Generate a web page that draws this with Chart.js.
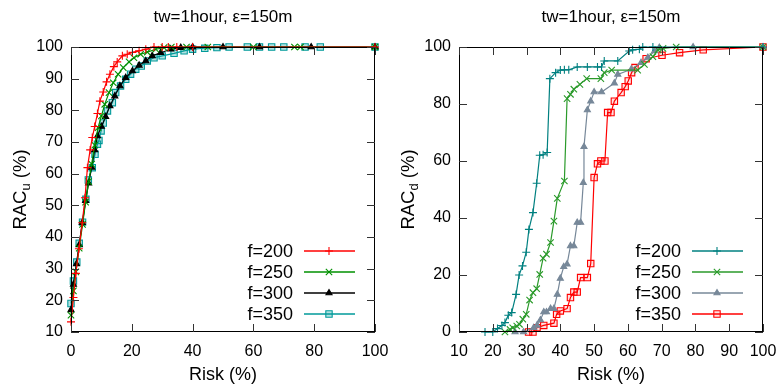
<!DOCTYPE html>
<html>
<head>
<meta charset="utf-8">
<script src="https://cdn.jsdelivr.net/npm/chart.js"></script>
<style>
body { margin: 0; background: #fff; }
canvas { position: absolute; top: 0; }
</style>
</head>
<body>
<canvas id="chartU" width="391" height="385" style="left:0"></canvas>
<canvas id="chartD" width="391" height="385" style="left:391px"></canvas>
<script>
// left panel: RAC_u vs risk
const labels = ["f=200", "f=250", "f=300", "f=350"]
const titleText = "tw=1hour, ε=150m"

const riskU200 = [0, 0.8, 1.6, 2.6, 3.7, 4.6, 5.4, 6.3, 7, 7.8, 8.7, 9.5, 10.6, 11.7, 12.8, 14.1, 15.2, 16.9, 18.5, 20.2, 22.4, 24.6, 27.3, 30, 32, 34.8, 40, 100]
const racU200 = [13.2, 20.9, 28.5, 36.3, 44.5, 52.4, 61.9, 67.5, 71.4, 74.9, 79, 82.9, 85.8, 89, 91.4, 93.8, 95.3, 97.2, 97.7, 98.3, 98.8, 99.3, 100, 100, 100, 100, 100, 100]
const riskU250 = [0, 0.8, 1.6, 2.7, 3.8, 4.8, 5.8, 6.8, 7.8, 8.9, 10, 11.1, 12.5, 13.9, 15.5, 17.2, 19.1, 20.7, 22.9, 25.1, 27.9, 30.6, 33, 38, 45, 60, 73.5, 75.5, 100]
const racU250 = [15.3, 23, 29, 36.5, 44, 51, 57.5, 63, 69, 74.5, 78.2, 81.9, 85.6, 88.7, 91.4, 93.5, 95.3, 96.6, 97.7, 98.4, 99.3, 99.8, 100, 100, 100, 100, 100, 100, 100]
const riskU300 = [0, 0.8, 1.8, 2.7, 3.7, 4.8, 5.8, 6.8, 7.8, 8.7, 10, 11.4, 12.8, 14.4, 16.1, 18, 20.2, 22.4, 24.6, 26.7, 29.5, 32.8, 36.1, 40, 50, 62, 79, 100]
const racU300 = [17, 25, 31.5, 37.5, 44.5, 51.5, 57, 62, 67.5, 71.9, 74.9, 78, 81.4, 84.5, 87.7, 90.3, 92.4, 94.2, 95.6, 97.2, 98.2, 99.3, 99.8, 100, 100, 100, 100, 100]
const riskU350 = [0, 0.8, 1.9, 2.7, 3.8, 4.9, 5.7, 7, 7.9, 8.7, 9.2, 9.9, 10.6, 12, 13.6, 14.7, 16.3, 18, 19.6, 21.3, 23.1, 25.1, 27.3, 30, 33.9, 37.2, 40, 44, 48, 52, 58, 62, 66, 70, 77, 82, 100]
const racU350 = [19, 26.1, 32.1, 38, 44.7, 51.9, 58, 61.9, 66.1, 69.3, 70.5, 73.5, 76, 79.8, 82.4, 85.6, 87.7, 89.8, 91.4, 93, 94, 95.6, 96.6, 97.2, 98, 98.8, 99.3, 99.6, 99.8, 100, 100, 100, 100, 100, 100, 100, 100]

// right panel: RAC_d vs risk
const riskD200 = [17.7, 20, 21.4, 22.7, 23.6, 24.6, 25.6, 26.9, 27.8, 28.8, 29.9, 30.7, 31.9, 33, 33.9, 34.9, 36.1, 36.9, 38.6, 40, 41.2, 42.5, 45, 48, 51, 52.2, 53, 57, 60.4, 61.4, 63.4, 64.4, 67.4, 100]
const racD200 = [0, 0, 1.2, 2.3, 3.3, 5.9, 6.8, 13.2, 20, 23.2, 28, 36, 41.9, 52.2, 62, 62.2, 63, 88.9, 91, 91.9, 92, 92, 93, 93, 93, 93, 95.1, 95.1, 98.6, 99, 99.2, 100, 100, 100]
const riskD250 = [23.6, 25.1, 25.9, 27.1, 27.9, 28.9, 29.9, 30.9, 31.9, 33, 33.9, 34.9, 35.9, 37.1, 38.1, 39.1, 41.2, 42, 43, 44, 45.8, 47.8, 52, 53, 55.2, 62.9, 64.9, 67.4, 68.9, 70.4, 74.3, 100]
const racD250 = [0, 0.9, 1.5, 2.1, 2.7, 4.5, 6.2, 11.2, 13.8, 15.2, 20.2, 25.9, 27.3, 31.4, 38.9, 46.9, 53, 81.9, 83.4, 85.2, 86.9, 88.9, 88.9, 91, 91.9, 91.9, 93.9, 96.6, 99, 99.5, 100, 100]
const riskD300 = [26.6, 29.1, 32.1, 33.1, 34.1, 35.1, 35.9, 37.1, 38.1, 39.1, 40, 41, 42, 43, 44, 45, 46, 46.8, 47, 48, 49, 50, 52.2, 56, 57, 61, 63.9, 65.9, 67.9, 69.3, 79.3, 100]
const racD300 = [0, 0, 1.5, 2.3, 4.2, 7, 7, 8.2, 8.2, 13.2, 18.8, 22.9, 23.8, 30.2, 30.2, 38.4, 38.4, 52.4, 65, 77.9, 81, 84.2, 84.2, 87.3, 90.4, 92.2, 94.5, 96.3, 98.6, 99.8, 100, 100]
const riskD350 = [30.6, 31.9, 33.1, 35.1, 38.1, 38.9, 40, 42, 43, 44, 45, 46, 48, 49, 50, 51, 52, 53.2, 54, 55, 56, 58, 59.2, 60.1, 61.1, 62.1, 65.4, 70.1, 75.3, 82.3, 100]
const racD350 = [0, 0, 1.5, 2.3, 3.1, 6.2, 7.4, 8.2, 12.1, 14, 14, 19.1, 19.1, 24, 54.2, 59, 60, 60, 77, 77, 81, 84, 86.1, 88.1, 91, 92.8, 95.9, 97.1, 98, 99, 100]

const FONT = "'Liberation Sans', Arial, sans-serif"

function pts(xs, ys) {
    return xs.map((x, i) => ({x: x, y: ys[i]}))
}

function makeSet(label, xs, ys, color, style, radius, fill) {
    return {
        label: label,
        data: pts(xs, ys),
        showLine: true,
        borderColor: color,
        backgroundColor: fill,
        borderWidth: 1.2,
        pointStyle: style,
        pointRadius: radius,
        pointBorderWidth: 1.1,
        pointBorderColor: color,
        pointBackgroundColor: fill,
        clip: false
    }
}

function noPad(s) {
    s.paddingLeft = 0
    s.paddingRight = 0
    s.paddingTop = 0
    s.paddingBottom = 0
}

// titles, frame, inward ticks, legend, y label with subscript
const decor = {
    id: 'decor',
    afterDraw(chart, args, opts) {
        const ctx = chart.ctx
        const a = chart.chartArea
        const cx = (a.left + a.right) / 2
        ctx.save()
        ctx.fillStyle = '#000'
        ctx.textAlign = 'center'
        ctx.textBaseline = 'middle'
        ctx.font = '17px ' + FONT
        ctx.fillText(titleText, cx, 17)
        ctx.font = '18px ' + FONT
        ctx.fillText('Risk (%)', cx, 375)

        // frame
        ctx.strokeStyle = '#000'
        ctx.lineWidth = 1
        ctx.strokeRect(a.left + 0.5, a.top + 0.5, a.right - a.left - 1, a.bottom - a.top - 1)

        // ticks pointing inward on all four sides
        ctx.strokeStyle = '#333'
        const tl = 8
        chart.scales.x.ticks.forEach(t => {
            const px = Math.round(chart.scales.x.getPixelForValue(t.value)) + 0.5
            ctx.beginPath()
            ctx.moveTo(px, a.bottom); ctx.lineTo(px, a.bottom - tl)
            ctx.moveTo(px, a.top); ctx.lineTo(px, a.top + tl)
            ctx.stroke()
        })
        chart.scales.y.ticks.forEach(t => {
            const py = Math.round(chart.scales.y.getPixelForValue(t.value)) + 0.5
            ctx.beginPath()
            ctx.moveTo(a.left, py); ctx.lineTo(a.left + tl, py)
            ctx.moveTo(a.right, py); ctx.lineTo(a.right - tl, py)
            ctx.stroke()
        })

        // y axis label: RAC + subscript
        ctx.save()
        ctx.translate(opts.yLabelX, (a.top + a.bottom) / 2)
        ctx.rotate(-Math.PI / 2)
        ctx.textAlign = 'left'
        ctx.textBaseline = 'alphabetic'
        ctx.font = '18.5px ' + FONT
        const w1 = ctx.measureText('RAC').width
        ctx.font = '13px ' + FONT
        const w2 = ctx.measureText(opts.sub).width
        ctx.font = '18.5px ' + FONT
        const w3 = ctx.measureText(' (%)').width
        let x0 = -(w1 + w2 + w3) / 2
        ctx.fillText('RAC', x0, 6)
        ctx.font = '13px ' + FONT
        ctx.fillText(opts.sub, x0 + w1, 10)
        ctx.font = '18.5px ' + FONT
        ctx.fillText(' (%)', x0 + w1 + w2, 6)
        ctx.restore()

        // legend
        const rows = [251, 272, 293, 314]
        ctx.font = '18px ' + FONT
        ctx.textAlign = 'right'
        ctx.textBaseline = 'middle'
        chart.data.datasets.forEach((ds, i) => {
            const y = rows[i]
            ctx.fillStyle = '#000'
            ctx.fillText(ds.label, opts.legendX, y + 1)
            ctx.strokeStyle = ds.borderColor
            ctx.lineWidth = 1.4
            ctx.beginPath()
            ctx.moveTo(opts.legendX + 11, y)
            ctx.lineTo(opts.legendX + 62, y)
            ctx.stroke()
            ctx.fillStyle = ds.pointBackgroundColor
            ctx.lineWidth = 1.1
            Chart.helpers.drawPoint(ctx, {pointStyle: ds.pointStyle, radius: ds.pointRadius, rotation: 0, borderWidth: 1.1}, opts.legendX + 36, y)
        })
        ctx.restore()
    }
}

function makeChart(id, sets, xr, yr, yWidth, padRight, legendX, yLabelX, sub) {
    return new Chart(document.getElementById(id), {
        type: 'scatter',
        data: {datasets: sets},
        plugins: [decor],
        options: {
            responsive: false,
            animation: false,
            devicePixelRatio: 1,
            layout: {padding: {top: 47, right: padRight, left: 0, bottom: 0}},
            plugins: {
                legend: {display: false},
                tooltip: {enabled: false},
                decor: {legendX: legendX, yLabelX: yLabelX, sub: sub}
            },
            scales: {
                x: {
                    type: 'linear', min: xr[0], max: xr[1],
                    ticks: {stepSize: xr[2], color: '#000', font: {size: 16, family: FONT}, padding: 10, maxRotation: 0},
                    grid: {display: false, drawTicks: false},
                    border: {display: false},
                    afterFit(s) { s.height = 53; noPad(s) }
                },
                y: {
                    type: 'linear', min: yr[0], max: yr[1],
                    ticks: {stepSize: yr[2], color: '#000', font: {size: 16, family: FONT}, padding: 8},
                    grid: {display: false, drawTicks: false},
                    border: {display: false},
                    afterFit(s) { s.width = yWidth; noPad(s) }
                }
            }
        }
    })
}

makeChart('chartU', [
    makeSet(labels[0], riskU200, racU200, '#ff0000', 'cross', 4, 'rgba(0,0,0,0)'),
    makeSet(labels[1], riskU250, racU250, '#009000', 'crossRot', 4.5, 'rgba(0,0,0,0)'),
    makeSet(labels[2], riskU300, racU300, '#000000', 'triangle', 3.5, '#000000'),
    makeSet(labels[3], riskU350, racU350, '#009a9a', 'rect', 4.5, 'rgba(0,154,154,0.3)')
], [0, 100, 20], [10, 100, 10], 71, 16, 293, 20, 'u')

makeChart('chartD', [
    makeSet(labels[0], riskD200, racD200, '#008080', 'cross', 4, 'rgba(0,0,0,0)'),
    makeSet(labels[1], riskD250, racD250, '#2a9a2a', 'crossRot', 4.5, 'rgba(0,0,0,0)'),
    makeSet(labels[2], riskD300, racD300, '#778899', 'triangle', 3.5, '#778899'),
    makeSet(labels[3], riskD350, racD350, '#ff0000', 'rect', 4.5, 'rgba(255,0,0,0.12)')
], [10, 100, 10], [0, 100, 20], 68, 19, 290, 17, 'd')
</script>
</body>
</html>
